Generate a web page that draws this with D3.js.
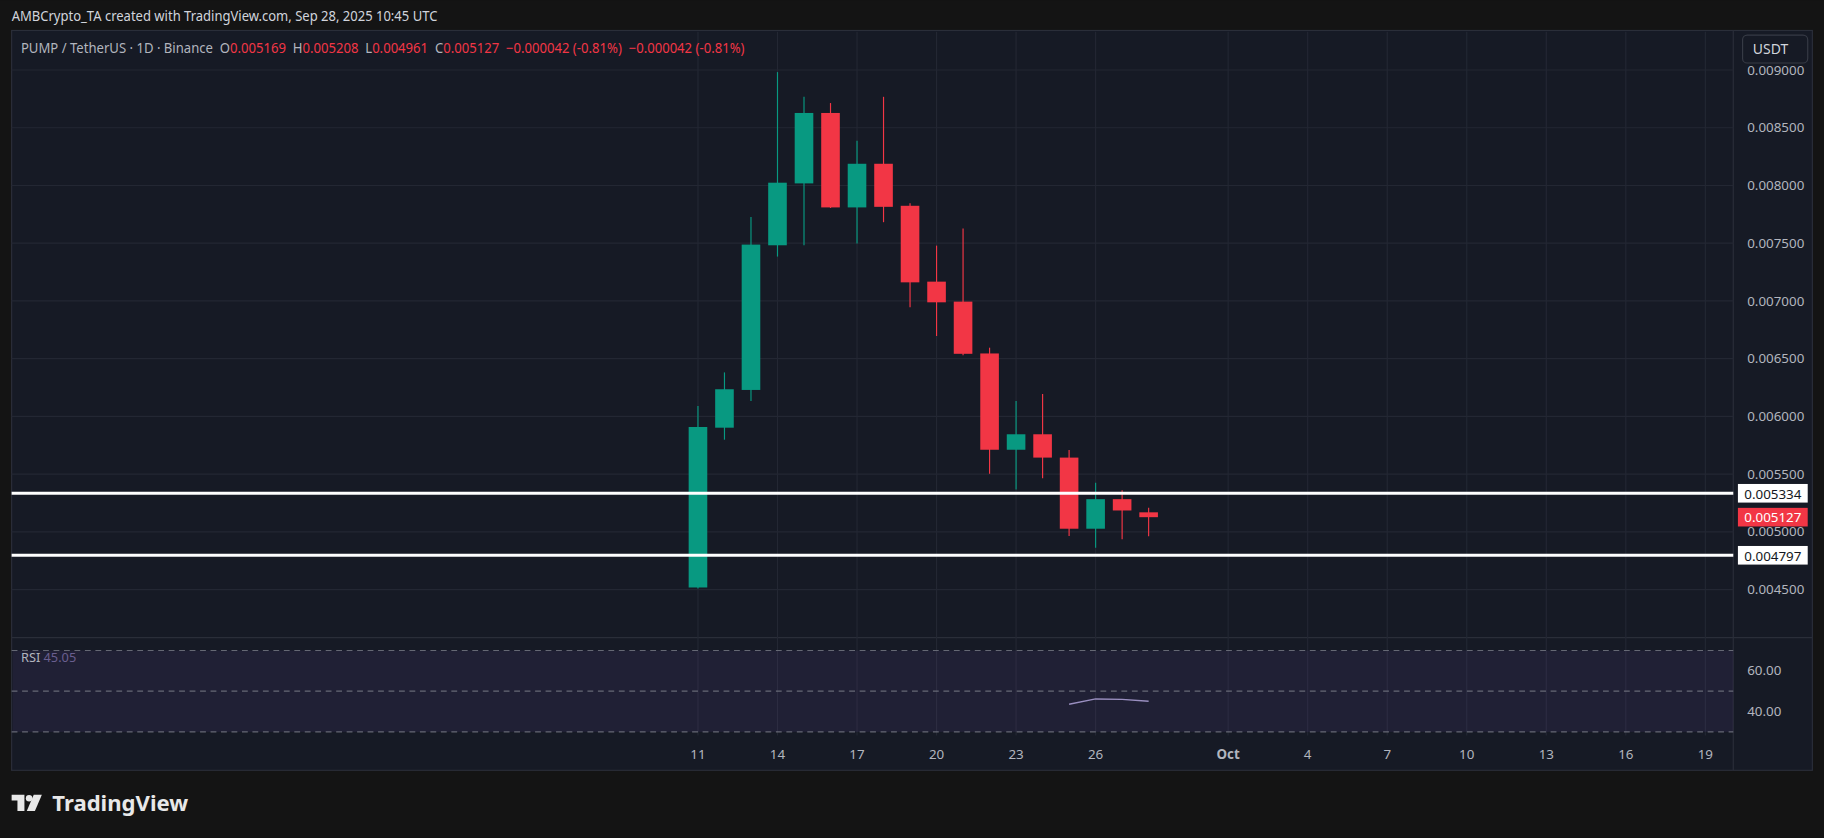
<!DOCTYPE html>
<html>
<head>
<meta charset="utf-8">
<script src="https://cdnjs.cloudflare.com/ajax/libs/d3/7.8.5/d3.min.js"></script>
<style>
  html, body { margin: 0; padding: 0; background: #141414; overflow: hidden; }
  svg { display: block; font-family: "Noto Sans", Roboto, sans-serif; }
</style>
</head>
<body>
<svg id="chart" width="1824" height="838" viewBox="0 0 1568 720"></svg>
<script>
'use strict';

// daily candles, Sep 11 .. Sep 28 2025
var days   = [11, 12, 13, 14, 15, 16, 17, 18, 19, 20, 21, 22, 23, 24, 25, 26, 27, 28];
var opens  = [0.004518, 0.005902, 0.006229, 0.007482, 0.008018, 0.008628, 0.007810, 0.008188, 0.007824, 0.007167, 0.006994, 0.006545, 0.005711, 0.005845, 0.005643, 0.005027, 0.005283, 0.005169];
var highs  = [0.006089, 0.006381, 0.007726, 0.008982, 0.008768, 0.008714, 0.008387, 0.008768, 0.007845, 0.007479, 0.007628, 0.006595, 0.006134, 0.006193, 0.005708, 0.005426, 0.005360, 0.005208];
var lows   = [0.004510, 0.005798, 0.006134, 0.007384, 0.007482, 0.007805, 0.007497, 0.007682, 0.006946, 0.006696, 0.006530, 0.005503, 0.005366, 0.005464, 0.004964, 0.004863, 0.004935, 0.004961];
var closes = [0.005908, 0.006235, 0.007488, 0.008024, 0.008628, 0.007810, 0.008188, 0.007815, 0.007161, 0.006988, 0.006542, 0.005711, 0.005845, 0.005643, 0.005027, 0.005283, 0.005185, 0.005127];

var levels = [0.005334, 0.004797];
var lastPrice = 0.005127;

var priceTicks = [0.0045, 0.005, 0.0055, 0.006, 0.0065, 0.007, 0.0075, 0.008, 0.0085, 0.009];
var timeTicks = [[11, '11'], [14, '14'], [17, '17'], [20, '20'], [23, '23'], [26, '26'], [31, 'Oct'],
                 [34, '4'], [37, '7'], [40, '10'], [43, '13'], [46, '16'], [49, '19']];

var rsiDays = [25, 26, 27, 28];
var rsiVals = [43.6, 46.2, 46.0, 45.05];
var rsiTicks = [40, 60];

var svg = d3.select('#chart');
var left = 10, right = 1490, axisRight = 1558;

// backgrounds
svg.append('rect').attr('width', 1568).attr('height', 720).attr('fill', '#141414');
svg.append('rect').attr('x', left).attr('y', 26).attr('width', axisRight - left).attr('height', 636)
    .attr('fill', '#161a25').attr('stroke', '#2a2e39');
svg.append('line').attr('x1', left).attr('x2', axisRight).attr('y1', 548).attr('y2', 548).attr('stroke', '#2a2e39');
svg.append('line').attr('x1', right).attr('x2', right).attr('y1', 26).attr('y2', 662).attr('stroke', '#2a2e39');

var x = d3.scaleLinear().domain([11, 49]).range([600, 1466]);
var y = d3.scaleLinear().domain([0.005, 0.009]).range([457, 60]);
var yr = d3.scaleLinear().domain([30, 70]).range([629, 559]);

// grid
var grid = svg.append('g').attr('stroke', '#232733').attr('stroke-width', 1);
grid.selectAll('.gv').data(timeTicks).enter().append('line')
    .attr('x1', function (d) { return x(d[0]); }).attr('x2', function (d) { return x(d[0]); })
    .attr('y1', 27).attr('y2', 632);
grid.selectAll('.gh').data(priceTicks).enter().append('line')
    .attr('x1', left).attr('x2', right)
    .attr('y1', function (d) { return y(d); }).attr('y2', function (d) { return y(d); });

// price axis labels
svg.append('g').selectAll('text').data(priceTicks).enter().append('text')
    .attr('x', 1502).attr('y', function (d) { return y(d) + 4; })
    .attr('fill', '#b2b5be').attr('font-size', 11.5)
    .text(function (d) { return d.toFixed(6); });

// time axis labels
svg.append('g').selectAll('text').data(timeTicks).enter().append('text')
    .attr('x', function (d) { return x(d[0]); }).attr('y', 652).attr('text-anchor', 'middle')
    .attr('fill', '#b2b5be').attr('font-size', 11.5)
    .attr('font-weight', function (d) { return d[1] === 'Oct' ? 'bold' : 'normal'; })
    .text(function (d) { return d[1]; });

// candles
var bw = 16;
var candles = svg.append('g').selectAll('g').data(days).enter().append('g');
candles.each(function (d, i) {
    var g = d3.select(this);
    var up = closes[i] >= opens[i];
    var col = up ? '#089981' : '#f23645';
    g.append('line').attr('x1', x(d)).attr('x2', x(d))
        .attr('y1', y(highs[i])).attr('y2', y(lows[i])).attr('stroke', col);
    var top = y(Math.max(opens[i], closes[i])), bot = y(Math.min(opens[i], closes[i]));
    g.append('rect').attr('x', x(d) - bw / 2).attr('width', bw)
        .attr('y', top).attr('height', Math.max(1, bot - top)).attr('fill', col);
});

// horizontal levels
levels.forEach(function (v) {
    svg.append('line').attr('x1', left).attr('x2', right).attr('y1', y(v)).attr('y2', y(v))
        .attr('stroke', '#ffffff').attr('stroke-width', 2.5);
    svg.append('rect').attr('x', 1494).attr('y', y(v) - 8).attr('width', 60).attr('height', 16).attr('fill', '#ffffff');
    svg.append('text').attr('x', 1524).attr('y', y(v) + 4.5).attr('text-anchor', 'middle')
        .attr('fill', '#131722').attr('font-size', 11.5).text(v.toFixed(6));
});
svg.append('rect').attr('x', 1494).attr('y', y(lastPrice) - 8).attr('width', 60).attr('height', 16).attr('fill', '#f23645');
svg.append('text').attr('x', 1524).attr('y', y(lastPrice) + 4.5).attr('text-anchor', 'middle')
    .attr('fill', '#ffffff').attr('font-size', 11.5).text(lastPrice.toFixed(6));

// RSI pane
svg.append('rect').attr('x', left + 1).attr('y', yr(70)).attr('width', right - left - 1).attr('height', yr(30) - yr(70))
    .attr('fill', '#7e57c2').attr('opacity', 0.1);
[70, 50, 30].forEach(function (v) {
    svg.append('line').attr('x1', left).attr('x2', right).attr('y1', yr(v)).attr('y2', yr(v))
        .attr('stroke', '#787b86').attr('stroke-dasharray', '5,4').attr('opacity', 0.8);
});
svg.append('path').datum(rsiDays)
    .attr('d', d3.line().x(function (d) { return x(d); }).y(function (d, i) { return yr(rsiVals[i]); }))
    .attr('fill', 'none').attr('stroke', '#9a8fc0').attr('stroke-width', 1.2);
svg.append('g').selectAll('text').data(rsiTicks).enter().append('text')
    .attr('x', 1502).attr('y', function (d) { return yr(d) + 4; })
    .attr('fill', '#b2b5be').attr('font-size', 11.5).text(function (d) { return d.toFixed(2); });
var rl = svg.append('text').attr('x', 18).attr('y', 569).attr('font-size', 11);
rl.append('tspan').attr('fill', '#b2b5be').text('RSI ');
rl.append('tspan').attr('fill', '#6a5f8f').text(' ' + rsiVals[rsiVals.length - 1].toFixed(2));

// header texts
svg.append('text').attr('x', 10).attr('y', 18).attr('fill', '#d1d4dc').attr('font-size', 12)
    .attr('textLength', 366).attr('lengthAdjust', 'spacingAndGlyphs')
    .text('AMBCrypto_TA created with TradingView.com, Sep 28, 2025 10:45 UTC');

var o = opens[opens.length - 1], h = highs[highs.length - 1], l = lows[lows.length - 1], c = closes[closes.length - 1];
var chg = (c - o).toFixed(6) + ' (' + ((c - o) / o * 100).toFixed(2) + '%)';
var leg = svg.append('text').attr('x', 18).attr('y', 45).attr('font-size', 12)
    .attr('textLength', 622).attr('lengthAdjust', 'spacingAndGlyphs').attr('style', 'white-space: pre');
var gray = '#b2b5be', red = '#f23645';
[['PUMP / TetherUS · 1D · Binance  O', gray], [o.toFixed(6), red], ['  H', gray], [h.toFixed(6), red],
 ['  L', gray], [l.toFixed(6), red], ['  C', gray], [c.toFixed(6), red],
 ['  ' + chg.replace('-', '\u2212'), red], ['  ' + chg.replace('-', '\u2212'), red]].forEach(function (p) {
    leg.append('tspan').attr('fill', p[1]).text(p[0]);
});

// USDT button
svg.append('rect').attr('x', 1498).attr('y', 30).attr('width', 56).attr('height', 24).attr('rx', 4)
    .attr('fill', '#161a25').attr('stroke', '#363a45');
svg.append('text').attr('x', 1522).attr('y', 46.5).attr('text-anchor', 'middle')
    .attr('fill', '#d1d4dc').attr('font-size', 12).text('USDT');

// logo
var logo = svg.append('g').attr('transform', 'translate(10,683)');
logo.append('path').attr('d', 'M0,0 H11 V14 H5 V5 H0 Z').attr('fill', '#e8e8e8');
logo.append('circle').attr('cx', 15).attr('cy', 3).attr('r', 2.8).attr('fill', '#e8e8e8');
logo.append('path').attr('d', 'M19,0 H26 L20,14 H13 Z').attr('fill', '#e8e8e8');
svg.append('text').attr('x', 45).attr('y', 697).attr('fill', '#e8e8e8').attr('font-size', 19)
    .attr('font-weight', 'bold').text('TradingView');
</script>
</body>
</html>
